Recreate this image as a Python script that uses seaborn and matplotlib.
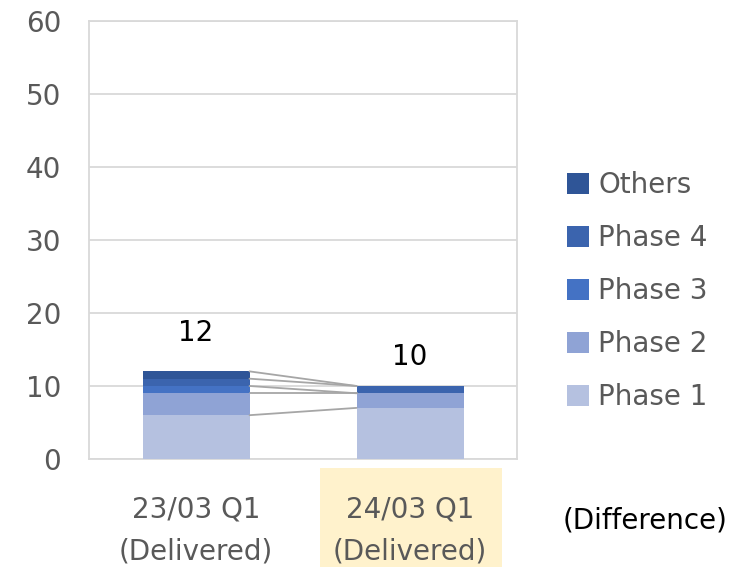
import numpy as np
import pandas as pd
import seaborn as sns
import matplotlib.pyplot as plt
from matplotlib.patches import Rectangle, Patch

# data
categories = ['23/03 Q1\n(Delivered)', '24/03 Q1\n(Delivered)']
phases = ['Phase 1', 'Phase 2', 'Phase 3', 'Phase 4', 'Others']
phase1 = [6, 7]
phase2 = [3, 2]
phase3 = [1, 0]
phase4 = [1, 1]
others = [1, 0]
totals = [12, 10]
colors = ['#B5C1E0', '#8FA3D5', '#4472C4', '#3B64AE', '#2F5597']

layers = [phase1, phase2, phase3, phase4, others]
df = pd.DataFrame(np.array(layers).T, index=categories, columns=phases)

sns.set_style('white')
plt.rcParams['font.family'] = ['DejaVu Sans']

fig = plt.figure(figsize=(7.4, 5.67), dpi=100)
ax = fig.add_axes([0.1203, 0.1905, 0.5784, 0.7725])

bottom = np.zeros(len(categories))
tops = []
for name, col in zip(phases, colors):
    sns.barplot(x=df.index, y=df[name], bottom=bottom, color=col, width=0.5,
                ax=ax, zorder=3, linewidth=0, saturation=1)
    bottom = bottom + df[name].values
    tops.append(bottom.copy())

# connector lines between stacked levels
for lvl in tops:
    ax.plot([0.25, 0.75], [lvl[0], lvl[1]], color='#A6A6A6', lw=1.3, zorder=4)

# total labels
label_offsets = [38, 29]
for i, t in enumerate(totals):
    ax.annotate(str(t), (i, t), xytext=(0, label_offsets[i]), textcoords='offset pixels',
                ha='center', va='center', fontsize=20, color='black')

ax.set_ylim(0, 60)
ax.set_xlim(-0.5, 1.5)
ax.set_yticks(range(0, 61, 10))
ax.yaxis.grid(True, color='#D9D9D9', lw=1.3, zorder=0)
ax.set_axisbelow(True)
for s in ax.spines.values():
    s.set_visible(True)
    s.set_color('#D9D9D9')
    s.set_linewidth(1.3)
ax.set_xlabel('')
ax.set_ylabel('')
ax.tick_params(axis='y', labelsize=20, labelcolor='#595959', length=0, pad=20)
ax.tick_params(axis='x', labelsize=20, labelcolor='#595959', length=0, pad=26)
for lab in ax.get_xticklabels():
    lab.set_linespacing(1.65)

# highlight behind second category label
fig.patches.append(Rectangle((320 / 740, 0), 182 / 740, 99 / 567, transform=fig.transFigure,
                             facecolor='#FFF2CC', edgecolor='none', zorder=-1))

fig.text(645 / 740, 1 - 520 / 567, '(Difference)', ha='center', va='center',
         fontsize=20, color='black')

handles = [Patch(facecolor=c, edgecolor='none') for c in colors][::-1]
leg = fig.legend(handles, phases[::-1], loc='center left', bbox_to_anchor=(542 / 740, 1 - 291 / 567),
                 frameon=False, fontsize=20, handlelength=0.78, handleheight=0.78,
                 handletextpad=0.35, labelspacing=0.9, labelcolor='#595959')

fig.savefig('out.png', dpi=100)
